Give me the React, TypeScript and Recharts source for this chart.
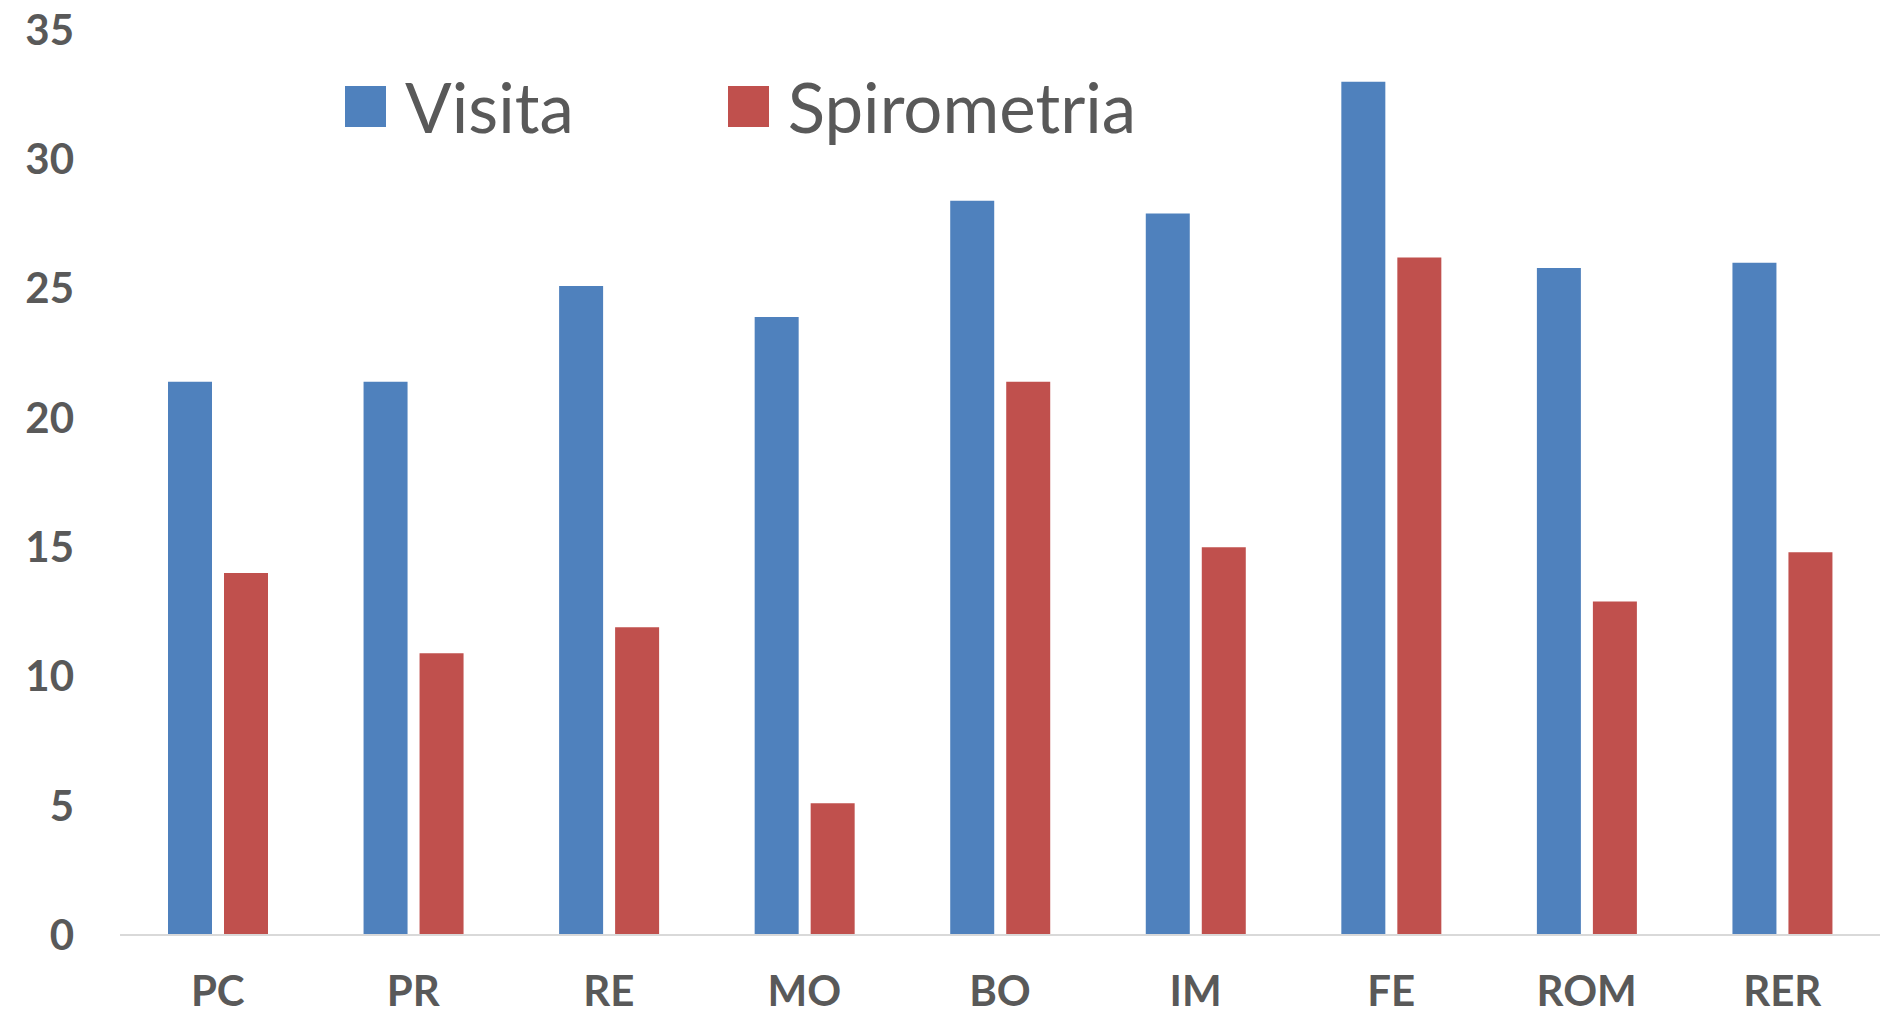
import React from 'react';
import { BarChart, Bar, XAxis, YAxis } from 'recharts';

const regions = ['PC', 'PR', 'RE', 'MO', 'BO', 'IM', 'FE', 'ROM', 'RER'];
const visita = [21.4, 21.4, 25.1, 23.9, 28.4, 27.9, 33.0, 25.8, 26.0];
const spirometria = [14.0, 10.9, 11.9, 5.1, 21.4, 15.0, 26.2, 12.9, 14.8];
const yTicks = [0, 5, 10, 15, 20, 25, 30, 35];

const seriesNames = ['Visita', 'Spirometria'];
const seriesColors = ['#4F81BD', '#C0504D'];

const data = regions.map((r, i) => ({
  region: r,
  Visita: visita[i],
  Spirometria: spirometria[i],
}));

const textColor = '#595959';

export default function App() {
  return (
    <div
      style={{
        position: 'absolute',
        left: 0,
        top: 0,
        width: 1880,
        height: 1016,
        background: '#fff',
        fontFamily: 'Lato',
      }}
    >
      <BarChart
        width={1880}
        height={1016}
        data={data}
        margin={{ top: 30, right: 0, left: 0, bottom: 0 }}
        barSize={44}
        barGap={12}
      >
        <XAxis
          dataKey="region"
          height={81}
          axisLine={{ stroke: '#d9d9d9', strokeWidth: 2 }}
          tickLine={false}
          tickMargin={35}
          tick={{ fill: textColor, fontSize: 42, fontWeight: 700, fontFamily: 'Lato' }}
          interval={0}
        />
        <YAxis
          width={120}
          domain={[0, 35]}
          ticks={yTicks}
          axisLine={false}
          tickLine={false}
          tickMargin={40}
          tick={{ fill: textColor, fontSize: 42, fontWeight: 700, fontFamily: 'Lato' }}
        />
        {seriesNames.map((name, i) => (
          <Bar key={name} dataKey={name} fill={seriesColors[i]} isAnimationActive={false} />
        ))}
      </BarChart>
      {/* legend, placed over the plot like the original */}
      <div
        style={{
          position: 'absolute',
          left: 345,
          top: 72,
          display: 'flex',
          alignItems: 'center',
        }}
      >
        {seriesNames.map((name, i) => (
          <div
            key={name}
            style={{ display: 'flex', alignItems: 'center', marginRight: i === 0 ? 154 : 0 }}
          >
            <div style={{ width: 41, height: 41, background: seriesColors[i], marginRight: 19 }} />
            <span style={{ fontSize: 69, color: textColor, fontFamily: 'Lato', lineHeight: 1 }}>
              {name}
            </span>
          </div>
        ))}
      </div>
    </div>
  );
}
